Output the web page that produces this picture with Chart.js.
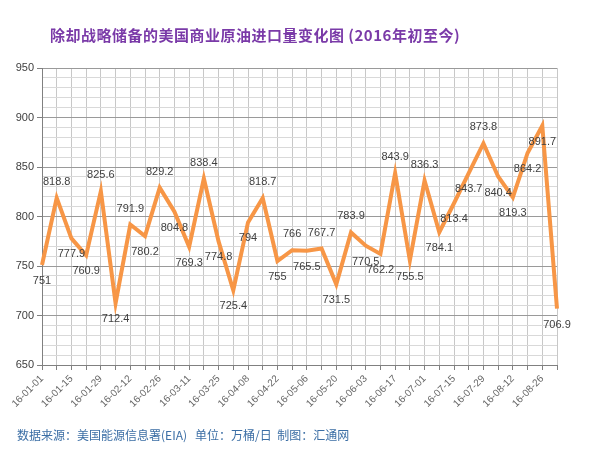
<!DOCTYPE html>
<html>
<head>
<meta charset="utf-8">
<script src="https://cdn.jsdelivr.net/npm/chart.js@4.4.1/dist/chart.umd.min.js"></script>
<style>
    html, body { margin: 0; padding: 0; background: #fff; }
    #wrap { position: relative; width: 600px; height: 465px; }
    #title {
        position: absolute; left: 0; top: 24px; width: 510px; text-align: center;
        font-family: "Noto Sans CJK SC", sans-serif; font-weight: bold; font-size: 15px;
        color: #7a3aa8; letter-spacing: 0.5px;
    }
    #source {
        position: absolute; left: 17px; top: 426px;
        font-family: "Noto Sans CJK SC", sans-serif; font-size: 12px; color: #3b6ea5;
        white-space: pre;
    }
</style>
</head>
<body>
<div id="wrap">
    <canvas id="importChart" width="600" height="465"></canvas>
    <div id="title">除却战略储备的美国商业原油进口量变化图 (2016年初至今)</div>
    <div id="source">数据来源：美国能源信息署(EIA)   单位：万桶/日  制图：汇通网</div>
</div>
<script>
const weeks = [
    "16-01-01", "16-01-08", "16-01-15", "16-01-22", "16-01-29", "16-02-05",
    "16-02-12", "16-02-19", "16-02-26", "16-03-04", "16-03-11", "16-03-18",
    "16-03-25", "16-04-01", "16-04-08", "16-04-15", "16-04-22", "16-04-29",
    "16-05-06", "16-05-13", "16-05-20", "16-05-27", "16-06-03", "16-06-10",
    "16-06-17", "16-06-24", "16-07-01", "16-07-08", "16-07-15", "16-07-22",
    "16-07-29", "16-08-05", "16-08-12", "16-08-19", "16-08-26", "16-09-02"
];

const imports = [
    751, 818.8, 777.9, 760.9, 825.6, 712.4,
    791.9, 780.2, 829.2, 804.8, 769.3, 838.4,
    774.8, 725.4, 794, 818.7, 755, 766,
    765.5, 767.7, 731.5, 783.9, 770.5, 762.2,
    843.9, 755.5, 836.3, 784.1, 813.4, 843.7,
    873.8, 840.4, 819.3, 864.2, 891.7, 706.9
];

// where each value label sits: 'a' above the line, 'b' below
const labelSide = [
    'b', 'a', 'b', 'b', 'a', 'b',
    'a', 'b', 'a', 'b', 'b', 'a',
    'b', 'b', 'b', 'a', 'b', 'a',
    'b', 'a', 'b', 'a', 'b', 'b',
    'a', 'b', 'a', 'b', 'b', 'b',
    'a', 'b', 'b', 'b', 'b', 'b'
];

const yMin = 650;
const yMax = 950;

const valueLabels = {
    id: 'valueLabels',
    afterDatasetsDraw(chart) {
        const ctx = chart.ctx;
        const meta = chart.getDatasetMeta(0);
        ctx.save();
        ctx.font = '11px "Liberation Sans", sans-serif';
        ctx.fillStyle = '#404040';
        ctx.textAlign = 'center';
        ctx.textBaseline = 'middle';
        meta.data.forEach((pt, i) => {
            const dy = labelSide[i] === 'a' ? -16 : 16;
            ctx.fillText(String(imports[i]), pt.x, pt.y + dy);
        });
        ctx.restore();
    }
};

new Chart(document.getElementById('importChart').getContext('2d'), {
    type: 'line',
    data: {
        labels: weeks,
        datasets: [{
            data: imports,
            borderColor: '#f79646',
            borderWidth: 4,
            pointRadius: 0,
            fill: false,
            tension: 0
        }]
    },
    options: {
        responsive: false,
        animation: false,
        layout: {
            padding: { top: 68, right: 43, bottom: 0, left: 0 }
        },
        plugins: {
            legend: { display: false },
            tooltip: { enabled: false }
        },
        scales: {
            x: {
                offset: false,
                afterFit: s => { s.height = 100; },
                grid: {
                    color: '#c8c8c8',
                    tickLength: 5,
                    tickColor: '#808080'
                },
                border: { color: '#808080' },
                ticks: {
                    autoSkip: false,
                    maxRotation: 45,
                    minRotation: 45,
                    color: '#666666',
                    font: { size: 10, family: '"Liberation Sans", sans-serif' },
                    callback: function (v, i) {
                        return i % 2 === 0 ? weeks[i] : '';
                    }
                }
            },
            y: {
                min: yMin,
                max: yMax,
                afterFit: s => { s.width = 42; },
                grid: {
                    color: ctx => (ctx.tick && ctx.tick.value % 50 === 0) ? '#9a9a9a' : '#d9d9d9',
                    tickLength: 5,
                    tickColor: ctx => (ctx.tick && ctx.tick.value % 50 === 0) ? '#808080' : 'rgba(0,0,0,0)'
                },
                border: { color: '#808080' },
                ticks: {
                    stepSize: 10,
                    autoSkip: false,
                    color: '#404040',
                    font: { size: 11, family: '"Liberation Sans", sans-serif' },
                    callback: v => v % 50 === 0 ? v : ''
                }
            }
        }
    },
    plugins: [valueLabels]
});
</script>
</body>
</html>
